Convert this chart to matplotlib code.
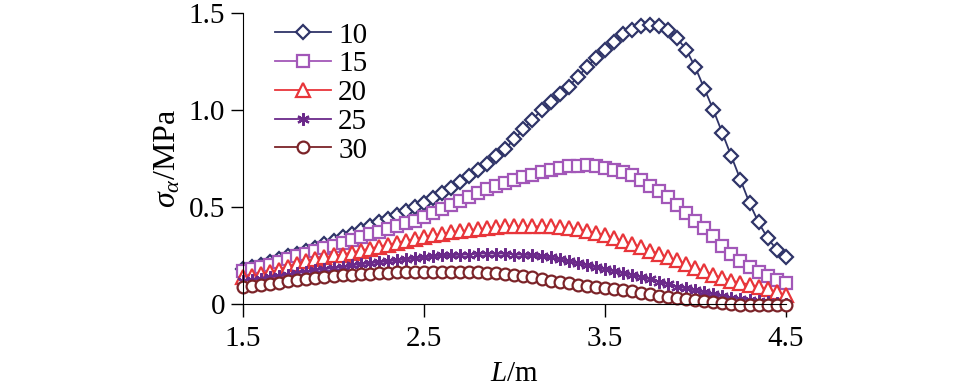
import numpy as np
import matplotlib
matplotlib.use('Agg')
import matplotlib.pyplot as plt

plt.rcParams['font.family'] = ['Liberation Serif', 'DejaVu Serif']
plt.rcParams['mathtext.fontset'] = 'custom'
plt.rcParams['mathtext.rm'] = 'Liberation Serif'
plt.rcParams['mathtext.it'] = 'Liberation Serif:italic'

# beam length L (m), step 0.05
L = np.round(np.arange(1.5, 4.5001, 0.05), 2)

# stress sigma_alpha (MPa) for each case
s10 = [0.18, 0.19, 0.20, 0.215, 0.23, 0.245, 0.26, 0.275, 0.29, 0.31,
       0.325, 0.345, 0.36, 0.38, 0.40, 0.42, 0.44, 0.46, 0.48, 0.50,
       0.52, 0.545, 0.57, 0.60, 0.63, 0.66, 0.69, 0.72, 0.76, 0.80,
       0.85, 0.90, 0.95, 1.00, 1.04, 1.08, 1.12, 1.17, 1.22, 1.27,
       1.31, 1.35, 1.39, 1.41, 1.43, 1.44, 1.43, 1.41, 1.37, 1.31,
       1.22, 1.11, 1.00, 0.88, 0.76, 0.64, 0.52, 0.42, 0.34, 0.28, 0.24]
s15 = [0.17, 0.18, 0.19, 0.20, 0.215, 0.23, 0.245, 0.26, 0.275, 0.29,
       0.30, 0.315, 0.33, 0.345, 0.36, 0.37, 0.385, 0.40, 0.415, 0.43,
       0.45, 0.47, 0.49, 0.51, 0.53, 0.55, 0.57, 0.59, 0.61, 0.625,
       0.64, 0.655, 0.665, 0.68, 0.69, 0.70, 0.71, 0.71, 0.715, 0.71,
       0.70, 0.69, 0.68, 0.665, 0.64, 0.61, 0.58, 0.55, 0.51, 0.47,
       0.43, 0.39, 0.35, 0.30, 0.26, 0.22, 0.19, 0.165, 0.145, 0.125, 0.11]
s20 = [0.14, 0.145, 0.155, 0.165, 0.175, 0.19, 0.205, 0.22, 0.23, 0.24,
       0.25, 0.255, 0.265, 0.275, 0.285, 0.295, 0.305, 0.315, 0.325, 0.335,
       0.345, 0.355, 0.36, 0.37, 0.375, 0.38, 0.385, 0.39, 0.395, 0.40,
       0.40, 0.40, 0.40, 0.40, 0.40, 0.395, 0.39, 0.385, 0.375, 0.365,
       0.355, 0.34, 0.325, 0.31, 0.295, 0.275, 0.26, 0.24, 0.225, 0.205,
       0.185, 0.17, 0.15, 0.135, 0.12, 0.11, 0.10, 0.09, 0.075, 0.06, 0.045]
s25 = [0.12, 0.125, 0.13, 0.14, 0.145, 0.15, 0.16, 0.165, 0.175, 0.18,
       0.185, 0.19, 0.20, 0.205, 0.21, 0.215, 0.22, 0.225, 0.23, 0.235,
       0.24, 0.245, 0.25, 0.25, 0.255, 0.255, 0.26, 0.26, 0.26, 0.26,
       0.255, 0.255, 0.25, 0.245, 0.24, 0.23, 0.22, 0.21, 0.20, 0.19,
       0.18, 0.17, 0.16, 0.15, 0.14, 0.13, 0.115, 0.105, 0.09, 0.08,
       0.07, 0.06, 0.05, 0.04, 0.03, 0.025, 0.02, 0.015, 0.01, 0.005, 0.0]
s30 = [0.09, 0.095, 0.10, 0.105, 0.11, 0.12, 0.125, 0.13, 0.135, 0.14,
       0.145, 0.15, 0.15, 0.155, 0.155, 0.16, 0.16, 0.165, 0.165, 0.165,
       0.165, 0.165, 0.165, 0.165, 0.165, 0.165, 0.165, 0.16, 0.16, 0.155,
       0.15, 0.145, 0.14, 0.13, 0.12, 0.115, 0.11, 0.10, 0.095, 0.09,
       0.085, 0.075, 0.07, 0.065, 0.055, 0.05, 0.04, 0.035, 0.03, 0.025,
       0.02, 0.015, 0.01, 0.005, 0.0, -0.005, -0.005, -0.005, -0.005, -0.005, -0.005]

labels = ['10', '15', '20', '25', '30']
series = [s10, s15, s20, s25, s30]
colors = ['#2f3468', '#a257b8', '#e8353a', '#6b2a8a', '#7b2328']
markers = ['D', 's', '^', (6, 2, 0), 'o']
msizes = [7.5, 9, 9.5, 9, 8.5]

fig = plt.figure(figsize=(9.57, 3.9), dpi=100)
ax = fig.add_axes([0.254, 0.2205, 0.567, 0.7465])

for y, lab, c, m, ms in zip(series, labels, colors, markers, msizes):
    ax.plot(L, y, color=c, lw=1.3, marker=m, ms=ms, mfc='white',
            mec=c, mew=1.6, label=lab, clip_on=False)

ax.set_xlim(1.5, 4.5)
ax.set_ylim(0, 1.5)
ax.set_xticks([1.5, 2.5, 3.5, 4.5])
ax.set_xticklabels(['1.5', '2.5', '3.5', '4.5'])
ax.set_yticks([0, 0.5, 1.0, 1.5])
ax.set_yticklabels(['0', '0.5', '1.0', '1.5'])
ax.tick_params(direction='out', length=9, width=1, labelsize=21)
ax.tick_params(axis='x', pad=7)
ax.tick_params(axis='y', pad=4)
for sp in ['top', 'right']:
    ax.spines[sp].set_visible(False)

ax.set_xlabel(r'$L$/m', fontsize=21, labelpad=6)
ax.set_ylabel(r'$\sigma_\alpha$/MPa', fontsize=23, labelpad=4)

ax.legend(loc='upper left', bbox_to_anchor=(0.038, 1.008), frameon=False, fontsize=21,
          handlelength=1.9, labelspacing=0.08, handletextpad=0.25, borderaxespad=0)

fig.savefig('out.png', dpi=100)
